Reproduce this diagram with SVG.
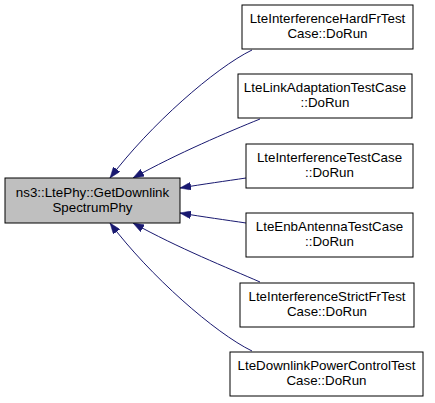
<svg xmlns="http://www.w3.org/2000/svg" width="435" height="403" viewBox="0 0 435 403">
<defs>
<style>
.n rect{fill:#ffffff;stroke:#000000;stroke-width:1}
.n.m rect{fill:#bfbfbf}
.n text{font-family:"Liberation Sans",Arial,sans-serif;font-size:13.33px;fill:#000000;text-anchor:middle}
.e path{fill:none;stroke:#191970;stroke-width:1;marker-end:url(#ah)}
</style>
<marker id="ah" markerUnits="userSpaceOnUse" viewBox="0 0 11 8" markerWidth="11" markerHeight="8" refX="11" refY="4" orient="auto">
<path d="M0,0 L11,4 L0,8 z" fill="#191970" stroke="#191970" stroke-width="0.5"/>
</marker>
</defs>
<rect width="435" height="403" fill="#ffffff"/>
<g id="edges" class="e">
<path d="M252,50 C215,68 150,125 110,178"/>
<path d="M260,119 C228,132 178,153 133,178"/>
<path d="M246,178 C226,181 204,184 180,188"/>
<path d="M246,223 C226,220 204,217 180,213"/>
<path d="M260,282 C228,268 178,248 133,223"/>
<path d="M252,351 C215,333 150,276 110,223"/>
</g>
<g id="main" class="n m">
<rect x="5" y="178" width="175" height="45"/>
<text x="92.5" y="197">ns3::LtePhy::GetDownlink</text>
<text x="92.5" y="212">SpectrumPhy</text>
</g>
<g id="n1" class="n">
<rect x="242" y="5" width="171" height="44"/>
<text x="327.5" y="23">LteInterferenceHardFrTest</text>
<text x="327.5" y="38">Case::DoRun</text>
</g>
<g id="n2" class="n">
<rect x="238" y="74" width="174" height="44"/>
<text x="325" y="92">LteLinkAdaptationTestCase</text>
<text x="325" y="107">::DoRun</text>
</g>
<g id="n3" class="n">
<rect x="246" y="144" width="167" height="44"/>
<text x="329.5" y="162">LteInterferenceTestCase</text>
<text x="329.5" y="177">::DoRun</text>
</g>
<g id="n4" class="n">
<rect x="246" y="213" width="167" height="44"/>
<text x="329.5" y="231">LteEnbAntennaTestCase</text>
<text x="329.5" y="246">::DoRun</text>
</g>
<g id="n5" class="n">
<rect x="240" y="283" width="174" height="44"/>
<text x="327" y="301">LteInterferenceStrictFrTest</text>
<text x="327" y="316">Case::DoRun</text>
</g>
<g id="n6" class="n">
<rect x="230" y="352" width="193" height="44"/>
<text x="326.5" y="370">LteDownlinkPowerControlTest</text>
<text x="326.5" y="385">Case::DoRun</text>
</g>
</svg>
